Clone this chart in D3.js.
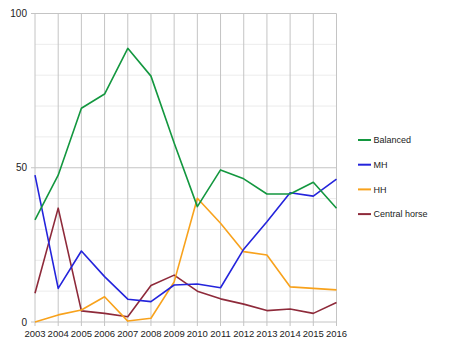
<!DOCTYPE html>
<html>
<head>
<meta charset="utf-8">
<script src="https://cdn.jsdelivr.net/npm/d3@7/dist/d3.min.js"></script>
<style>
  html, body { margin: 0; padding: 0; background: #fff; }
  svg { display: block; font-family: "Liberation Sans", Arial, sans-serif; }
</style>
</head>
<body>
<svg id="chart" width="450" height="347"></svg>
<script>
const years = [2003, 2004, 2005, 2006, 2007, 2008, 2009, 2010, 2011, 2012, 2013, 2014, 2015, 2016];
const seriesNames = ["Balanced", "MH", "HH", "Central horse"];
const balanced = [33.1, 47.6, 69.3, 73.9, 88.7, 79.7, 58.0, 37.4, 49.3, 46.4, 41.5, 41.5, 45.3, 36.9];
const mh       = [47.6, 10.9, 23.0, 14.7, 7.4, 6.6, 12.0, 12.3, 11.1, 23.6, 32.5, 41.9, 40.8, 46.3];
const hh       = [0.0, 2.3, 3.9, 8.2, 0.3, 1.2, 13.0, 40.1, 32.0, 22.8, 21.7, 11.4, 10.9, 10.4];
const central  = [9.3, 36.9, 3.6, 2.8, 1.7, 11.8, 15.2, 10.0, 7.5, 5.8, 3.7, 4.2, 2.8, 6.3];
const yTicks = [0, 50, 100];
const yMinor = [10, 20, 30, 40, 60, 70, 80, 90];
const colors = ["#13973f", "#2424dc", "#f8a21c", "#8e2a3a"];

const svg = d3.select("#chart");
const plot = { left: 35, right: 336.5, top: 13.5, bottom: 322 };

const x = d3.scaleLinear().domain([2003, 2016]).range([plot.left, plot.right]);
const y = d3.scaleLinear().domain([0, 100]).range([plot.bottom, plot.top]);

// minor horizontal gridlines
svg.append("g").selectAll("line").data(yMinor).join("line")
  .attr("x1", plot.left).attr("x2", plot.right)
  .attr("y1", d => y(d)).attr("y2", d => y(d))
  .attr("stroke", "#ececec").attr("stroke-width", 1);

// vertical gridlines with a short tick below the baseline
svg.append("g").selectAll("line").data(years).join("line")
  .attr("x1", d => x(d)).attr("x2", d => x(d))
  .attr("y1", plot.top).attr("y2", plot.bottom + 4)
  .attr("stroke", "#c4c4c4").attr("stroke-width", 1);

// major horizontal gridlines with a short tick left of the axis
svg.append("g").selectAll("line").data(yTicks).join("line")
  .attr("x1", plot.left - 4).attr("x2", plot.right)
  .attr("y1", d => y(d)).attr("y2", d => y(d))
  .attr("stroke", "#c4c4c4").attr("stroke-width", 1);

// y tick labels
svg.append("g").selectAll("text").data(yTicks).join("text")
  .attr("x", plot.left - 8).attr("y", d => y(d))
  .attr("dy", "0.35em").attr("text-anchor", "end")
  .attr("font-size", 10).attr("fill", "#222")
  .text(d => d);

// x tick labels
svg.append("g").selectAll("text").data(years).join("text")
  .attr("x", d => x(d)).attr("y", 334)
  .attr("dy", "0.35em").attr("text-anchor", "middle")
  .attr("font-size", 9.5).attr("fill", "#222")
  .text(d => d);

const series = [balanced, mh, hh, central];
const line = d3.line().x((d, i) => x(years[i])).y(d => y(d));

// draw in reverse so Balanced sits on top
series.map((s, i) => ({ s, i })).reverse().forEach(({ s, i }) => {
  svg.append("path").datum(s)
    .attr("d", line)
    .attr("fill", "none")
    .attr("stroke", colors[i])
    .attr("stroke-width", 1.6)
    .attr("stroke-linejoin", "round");
});

// legend
const legend = svg.append("g").selectAll("g").data(seriesNames).join("g")
  .attr("transform", (d, i) => `translate(358, ${140 + i * 24.7})`);
legend.append("line")
  .attr("x1", 0).attr("x2", 13).attr("y1", 0).attr("y2", 0)
  .attr("stroke", (d, i) => colors[i]).attr("stroke-width", 2);
legend.append("text")
  .attr("x", 15.5).attr("y", 0).attr("dy", "0.35em")
  .attr("font-size", 9).attr("fill", "#222")
  .text(d => d);
</script>
</body>
</html>
